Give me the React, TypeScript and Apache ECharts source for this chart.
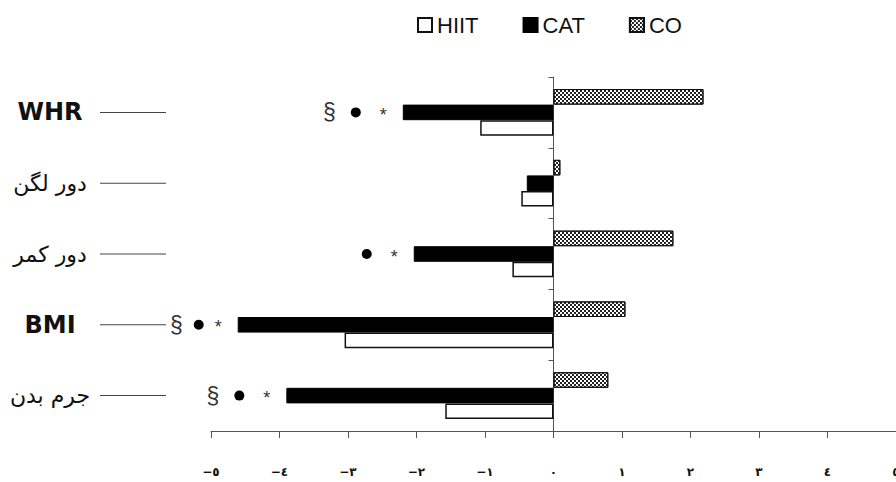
import React, { useEffect, useRef } from 'react';
import * as echarts from 'echarts';

const categories = ['WHR', 'دور لگن', 'دور کمر', 'BMI', 'جرم بدن'];
const legendNames = ['HIIT', 'CAT', 'CO'];
const hiitValues = [-1.07, -0.47, -0.6, -3.05, -1.58];
const catValues = [-2.2, -0.39, -2.04, -4.61, -3.9];
const coValues = [2.19, 0.1, 1.75, 1.05, 0.8];
const significance = [['§', '●', '*'], [], ['●', '*'], ['§', '●', '*'], ['§', '●', '*']];
const xTickLabels = ['−٥', '−٤', '−٣', '−٢', '−١', '٠', '١', '٢', '٣', '٤', '٥'];
const xMin = -5;
const xMax = 5;

export default function App() {
  const ref = useRef<HTMLDivElement>(null);
  useEffect(() => {
    document.body.style.margin = '0';
    const chart = echarts.init(ref.current!, null, { renderer: 'svg' });
    const tokenFor = (m: string) => (m === '§' ? '{sec|§}' : m === '●' ? '{dot| }' : '{ast|*}');
    chart.setOption({
      animation: false,
      backgroundColor: '#fff',
      legend: {
        data: legendNames,
        left: 412,
        top: 9,
        itemWidth: 14,
        itemHeight: 14,
        itemGap: 44,
        icon: 'rect',
        textStyle: { fontFamily: 'Liberation Sans', fontSize: 22, color: '#111' },
      },
      grid: { left: 211, right: 0, top: 77, bottom: 51, containLabel: false, outerBoundsMode: 'none' },
      xAxis: {
        type: 'value',
        min: xMin,
        max: xMax,
        interval: 1,
        splitLine: { show: false },
        axisLine: { show: true, lineStyle: { color: '#555', width: 1 } },
        axisTick: { show: true, length: 7, lineStyle: { color: '#555' } },
        axisLabel: {
          margin: 35,
          fontFamily: 'DejaVu Sans',
          fontSize: 12,
          fontWeight: 'bold',
          color: '#111',
          formatter: (v: number) => xTickLabels[Math.round(v - xMin)] ?? '',
        },
      },
      yAxis: [
        {
          type: 'category',
          data: categories,
          inverse: true,
          axisLine: { show: true, onZero: true, lineStyle: { color: '#555', width: 1 } },
          axisTick: { show: true, length: 5, lineStyle: { color: '#555' } },
          axisLabel: { show: false },
        },
        {
          type: 'category',
          data: categories,
          inverse: true,
          position: 'left',
          axisLine: { show: false, onZero: false },
          axisTick: { show: false },
          axisLabel: {
            margin: 45,
            formatter: (v: string) => {
              const latin = /^[A-Za-z]+$/.test(v);
              return `{${latin ? 'en' : 'fa'}|${v}}{ln| }`;
            },
            rich: {
              en: { width: 100, align: 'center', fontFamily: 'DejaVu Sans', fontWeight: 'bold', fontSize: 24, color: '#111' },
              fa: { width: 100, align: 'center', fontFamily: 'DejaVu Sans', fontSize: 22, color: '#111' },
              ln: { width: 66, height: 1, backgroundColor: '#444', align: 'center', fontSize: 10 },
            },
          },
        },
      ],
      series: [
        {
          name: 'CO',
          type: 'bar',
          data: coValues,
          barGap: '0%',
          barCategoryGap: '34%',
          itemStyle: {
            color: '#fff',
            borderColor: '#111',
            borderWidth: 1,
            decal: {
              symbol: 'rect',
              symbolSize: 1,
              color: '#222',
              backgroundColor: '#fff',
              dashArrayX: [[2, 2], [0, 2, 2, 0]],
              dashArrayY: [2, 0],
            },
          },
        },
        {
          name: 'CAT',
          type: 'bar',
          data: catValues,
          barGap: '0%',
          barCategoryGap: '34%',
          itemStyle: { color: '#000', borderColor: '#000', borderWidth: 1 },
          label: {
            show: true,
            position: 'left',
            distance: 16,
            formatter: (p: any) => {
              const marks = significance[p.dataIndex];
              if (!marks.length) return '';
              const tight = p.dataIndex === 3;
              let s = '';
              marks.forEach((m, i) => {
                if (i > 0) {
                  const prev = marks[i - 1];
                  if (prev === '§') s += tight ? '{g1t| }' : '{g1| }';
                  else s += tight ? '{g2t| }' : '{g2| }';
                }
                s += tokenFor(m);
              });
              return s;
            },
            rich: {
              sec: { fontFamily: 'Liberation Sans', fontSize: 23, color: '#333' },
              dot: { width: 10, height: 10, borderRadius: 5, backgroundColor: '#000', fontSize: 6 },
              ast: { fontFamily: 'Liberation Sans', fontSize: 18, color: '#333', padding: [5, 0, 0, 0] },
              g1: { width: 15, fontSize: 6 },
              g2: { width: 19, fontSize: 6 },
              g1t: { width: 11, fontSize: 6 },
              g2t: { width: 11, fontSize: 6 },
            },
          },
        },
        {
          name: 'HIIT',
          type: 'bar',
          data: hiitValues,
          barGap: '0%',
          barCategoryGap: '34%',
          itemStyle: { color: '#fff', borderColor: '#111', borderWidth: 1.5 },
        },
      ],
    });
    return () => chart.dispose();
  }, []);
  return <div ref={ref} style={{ width: 896, height: 482 }} />;
}
